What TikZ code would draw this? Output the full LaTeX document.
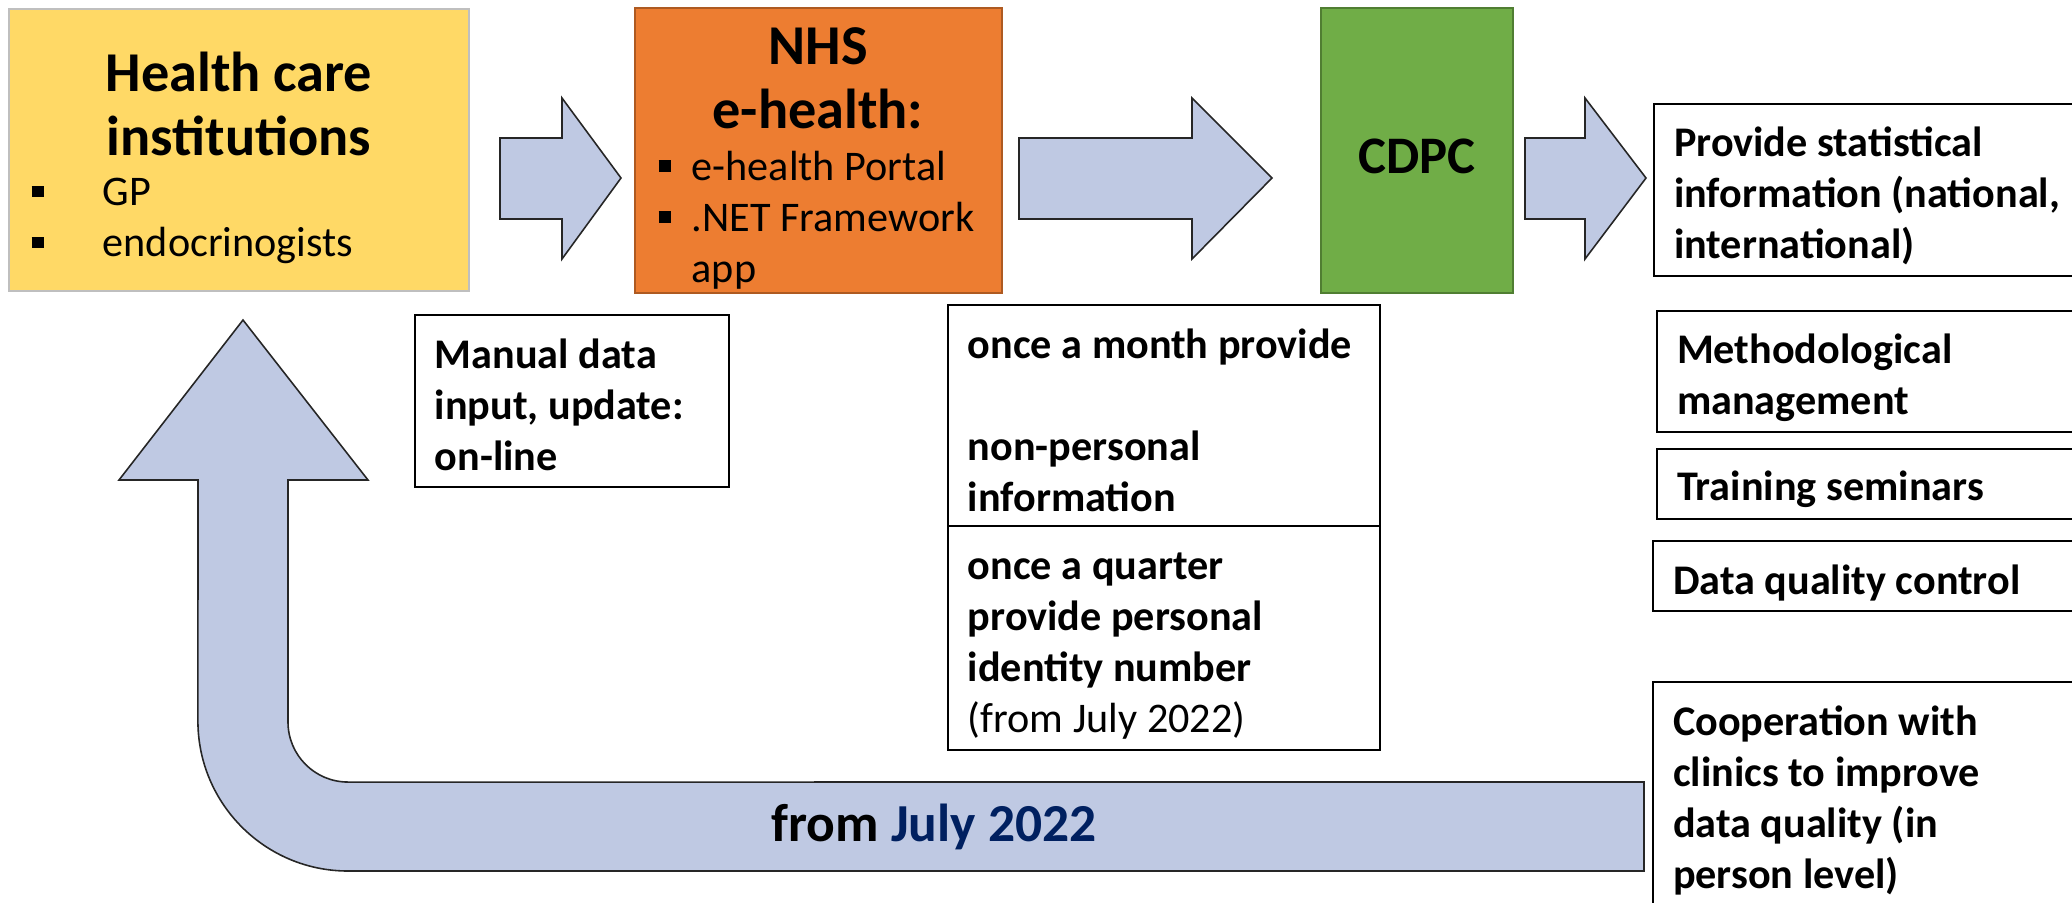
\documentclass[tikz,border=0pt]{standalone}
\usepackage{fontspec}
\setmainfont{Carlito}
\setlength{\parindent}{0pt}

\definecolor{hciyellow}{HTML}{FFD966}
\definecolor{nhsorange}{HTML}{ED7D31}
\definecolor{nhsborder}{HTML}{AE5A21}
\definecolor{cdpcgreen}{HTML}{70AD47}
\definecolor{cdpcborder}{HTML}{507E32}
\definecolor{flowblue}{HTML}{BFC9E3}
\definecolor{navy}{HTML}{002060}

\newcommand\sqbullet{\rule[0.085cm]{0.12cm}{0.115cm}}
\newcommand\bitem[2]{\makebox[#1][l]{\sqbullet}#2}
\newcommand\topgap[1]{\rule{0pt}{#1}}

\tikzset{
  flow/.style={draw=black!85, line width=0.45pt, fill=flowblue},
  title/.style={font=\bfseries\fontsize{16}{18.2}\selectfont, align=center, inner sep=0},
  list/.style={font=\fontsize{12}{14.5}\selectfont, align=left, anchor=west, inner sep=0},
  infobox/.style={draw=black, line width=0.6pt, inner xsep=0.2cm, inner ysep=0,
    align=flush left, font=\bfseries\fontsize{12}{14.5}\selectfont},
}

\begin{document}
\begin{tikzpicture}[x=0.01cm, y=-0.01cm]
\useasboundingbox (0,0) rectangle (2072,902);
\clip (0,0) rectangle (2072,902);

%feedback arrow back to the institutions
\draw[flow] (243,320) -- (368,480) -- (288,480) -- (288,722)
  arc[start angle=180, end angle=270, radius=0.6cm] -- (1644,782) -- (1644,871) -- (348,871)
  arc[start angle=270, end angle=180, radius=1.5cm] -- (198,480) -- (119,480) -- cycle;
\node[font=\bfseries\fontsize{15.2}{18}\selectfont] (period) at (934,827) {from \textcolor{navy}{July 2022}};

%block arrows between the boxes
\foreach \xa/\xb/\xc in {500/562/621, 1019/1192/1272, 1525/1585/1646}
  \draw[flow] (\xa,138) -- (\xb,138) -- (\xb,98) -- (\xc,178) -- (\xb,259) -- (\xb,219) -- (\xa,219) -- cycle;

%health care institutions
\node[draw=black!25, line width=0.5pt, fill=hciyellow, minimum width=4.6cm, minimum height=2.82cm, inner sep=0] (hci) at (239,150) {};
\node[title] (hci-title) at (239,104) {Health care\\institutions};
\node[list] (hci-list) at (31,221) {\bitem{0.71cm}{GP}\\\bitem{0.71cm}{endocrinogists}};

%NHS e-health
\node[draw=nhsborder, line width=0.6pt, fill=nhsorange, minimum width=3.67cm, minimum height=2.85cm, inner sep=0] (nhs) at (818.5,150.5) {};
\node[title] (nhs-title) at (818,78) {NHS\\e-health:};
\node[list] (nhs-list) at (658,220) {\bitem{0.33cm}{e-health Portal}\\\bitem{0.33cm}{.NET Framework}\\\hspace*{0.33cm}app};

%CDPC
\node[draw=cdpcborder, line width=0.6pt, fill=cdpcgreen, minimum width=1.92cm, minimum height=2.85cm, inner sep=0] (cdpc) at (1417,150.5) {};
\node[font=\bfseries\fontsize{15}{18}\selectfont] (cdpc-name) at (1417,156) {CDPC};

%data transfer notes
\node[infobox, text width=2.74cm, minimum height=1.72cm] (manual) at (572,401) {\topgap{0.37cm}Manual data\\input, update:\\on-line};
\node[infobox, text width=3.92cm, minimum height=2.21cm] (monthly) at (1164,415.5)
  {\topgap{0.39cm}\mbox{once a month provide}\\[\baselineskip]non-personal\\information};
\node[infobox, text width=3.92cm, minimum height=2.24cm] (quarterly) at (1164,638)
  {\topgap{0.43cm}once a quarter\\provide personal\\identity number\\{\mdseries (from July 2022)}};

%tasks of the CDPC
\node[infobox, anchor=west, text width=4.2cm, minimum height=1.72cm] (stats) at (1653,190)
  {\topgap{0.41cm}Provide statistical\\information (national,\\international)};
\node[infobox, anchor=west, text width=4.2cm, minimum height=1.21cm] (method) at (1656,371.5)
  {\topgap{0.42cm}Methodological\\management};
\node[infobox, anchor=west, text width=4.2cm, minimum height=0.70cm] (training) at (1656,484)
  {\topgap{0.40cm}Training seminars};
\node[infobox, anchor=west, text width=4.2cm, minimum height=0.70cm] (quality) at (1652,576)
  {\topgap{0.43cm}Data quality control};
\node[infobox, anchor=west, text width=4.2cm, minimum height=2.36cm] (clinics) at (1652,800)
  {Cooperation with\\clinics to improve\\data quality (in\\person level)};

\end{tikzpicture}
\end{document}
